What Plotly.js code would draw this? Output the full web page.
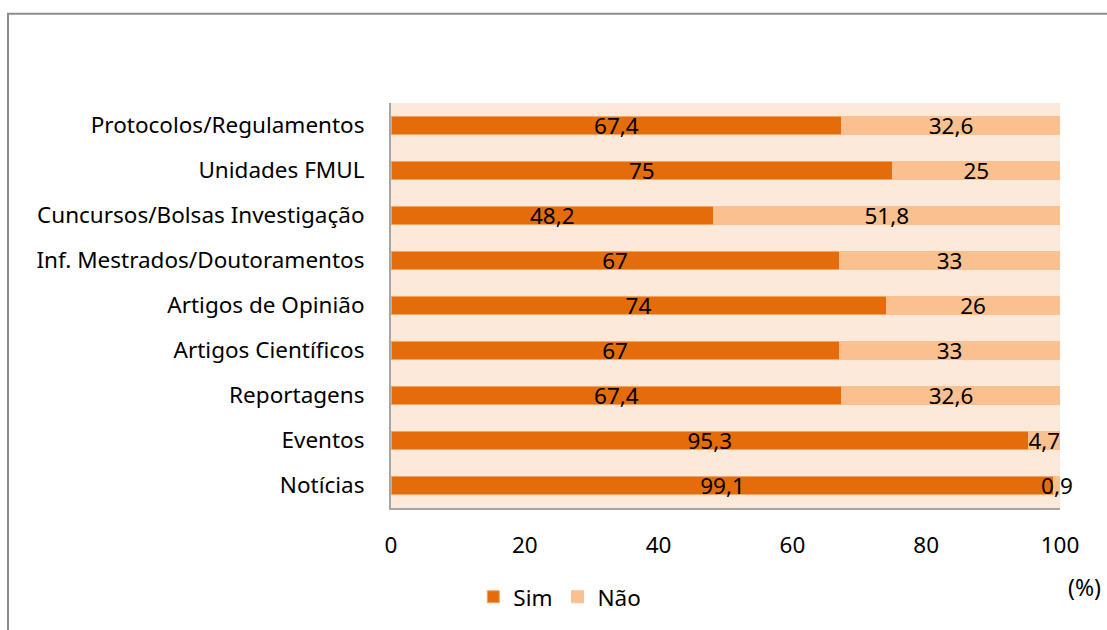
<!DOCTYPE html>
<html>
<head>
<meta charset="utf-8">
<script src="https://cdn.plot.ly/plotly-3.0.1.min.js"></script>
<style>
html,body{margin:0;padding:0;background:#fff;}
#chart{width:1107px;height:630px;}
</style>
</head>
<body>
<div id="chart"></div>
<script>
// Categories listed top to bottom
var categories = [
  "Protocolos/Regulamentos",
  "Unidades FMUL",
  "Cuncursos/Bolsas Investigação",
  "Inf. Mestrados/Doutoramentos",
  "Artigos de Opinião",
  "Artigos Científicos",
  "Reportagens",
  "Eventos",
  "Notícias"
];
var simValues = [67.4, 75, 48.2, 67, 74, 67, 67.4, 95.3, 99.1];
var naoValues = [32.6, 25, 51.8, 33, 26, 33, 32.6, 4.7, 0.9];
var xTicks = [0, 20, 40, 60, 80, 100];

function fmt(v){ return String(v).replace('.', ','); }

var FONT = "'Noto Sans', 'Open Sans', sans-serif";
var FS = 22.5;

var traces = [
  {
    type: 'bar', orientation: 'h', name: 'Sim',
    y: categories, x: simValues,
    text: simValues.map(fmt), textposition: 'inside', insidetextanchor: 'middle',
    constraintext: 'none', textangle: 0, cliponaxis: false,
    textfont: {family: FONT, size: FS, color: '#000'},
    marker: {color: '#E46C0A', line: {color: '#F4A460', width: 1}},
    hoverinfo: 'none'
  },
  {
    type: 'bar', orientation: 'h', name: 'Não',
    y: categories, x: naoValues,
    text: naoValues.map(fmt), textposition: 'inside', insidetextanchor: 'middle',
    constraintext: 'none', textangle: 0, cliponaxis: false,
    textfont: {family: FONT, size: FS, color: '#000'},
    marker: {color: '#FAC090', line: {color: '#FAC090', width: 1}},
    hoverinfo: 'none'
  }
];

var layout = {
  width: 1107, height: 630,
  margin: {l: 391, r: 47, t: 103, b: 119},
  barmode: 'stack',
  bargap: 0.6,
  paper_bgcolor: '#ffffff',
  plot_bgcolor: '#FDE9DA',
  font: {family: FONT, size: FS, color: '#000'},
  showlegend: true,
  legend: {
    orientation: 'h', x: 0.123, xanchor: 'left', y: -0.22, yanchor: 'middle',
    font: {family: FONT, size: FS, color: '#000'},
    traceorder: 'normal', itemwidth: 30
  },
  xaxis: {
    range: [0, 100], tickvals: xTicks, ticktext: xTicks.map(String),
    showgrid: false, zeroline: false, showline: true, linecolor: '#A6A6A6', linewidth: 2,
    ticks: '', ticklabelstandoff: 16, fixedrange: true,
    tickfont: {family: FONT, size: FS, color: '#000'}
  },
  yaxis: {
    autorange: 'reversed', showgrid: false, zeroline: false,
    showline: true, linecolor: '#A6A6A6', linewidth: 2,
    ticks: '', ticklabelstandoff: 20, fixedrange: true,
    tickfont: {family: FONT, size: FS, color: '#000'}
  },
  annotations: [
    {text: '(%)', xref: 'paper', yref: 'paper', x: 1.037, y: -0.194,
     xanchor: 'center', yanchor: 'middle', showarrow: false,
     font: {family: FONT, size: 23, color: '#000'}}
  ],
  shapes: [
    {type: 'rect', xref: 'paper', yref: 'paper',
     x0: -0.5725, x1: 1.08, y0: -0.32, y1: 1.2206,
     line: {color: '#8C8C8C', width: 2}, fillcolor: 'rgba(0,0,0,0)', layer: 'below'}
  ]
};

Plotly.newPlot('chart', traces, layout, {displayModeBar: false, staticPlot: true});
</script>
</body>
</html>
